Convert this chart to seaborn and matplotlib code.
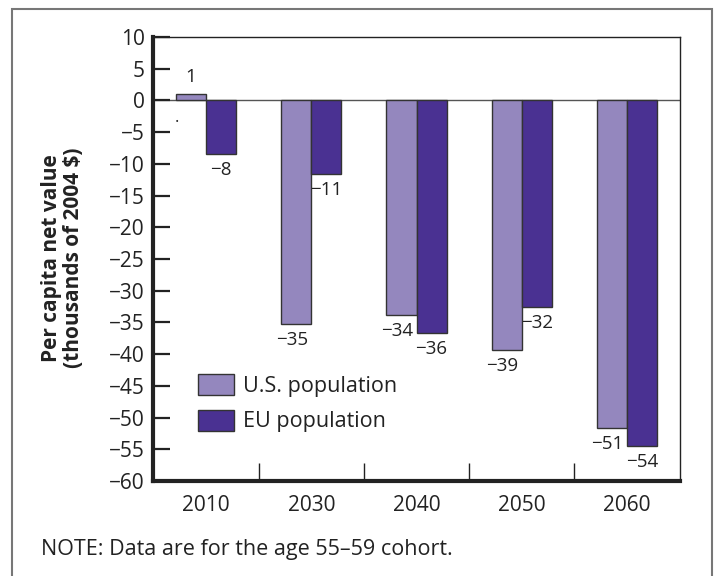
import matplotlib
matplotlib.use("Agg")
import matplotlib.pyplot as plt
import seaborn as sns
import pandas as pd
from matplotlib.patches import Rectangle, Patch
from matplotlib.ticker import FixedLocator

# ---- data ----
years = ["2010", "2030", "2040", "2050", "2060"]
us_values = [1.0, -35.2, -33.9, -39.3, -51.7]
eu_values = [-8.5, -11.6, -36.6, -32.6, -54.5]
us_labels = ["1", "\u221235", "\u221234", "\u221239", "\u221251"]
eu_labels = ["\u22128", "\u221211", "\u221236", "\u221232", "\u221254"]
series_names = ["U.S. population", "EU population"]
y_ticks = list(range(-60, 11, 5))
y_label = "Per capita net value\n(thousands of 2004 $)"
note = "NOTE: Data are for the age 55\u201359 cohort."

US_COLOR = "#9487BE"
EU_COLOR = "#4A3192"

df = pd.DataFrame({
    "year": years * 2,
    "value": us_values + eu_values,
    "series": [series_names[0]] * len(years) + [series_names[1]] * len(years),
})

sns.set_theme(style="white")
plt.rcParams["font.family"] = ["Open Sans", "DejaVu Sans"]

fig = plt.figure(figsize=(7.18, 5.76), dpi=100)
ax = fig.add_axes([153/718, 1-481/576, (680-153)/718, (481-37)/576])

sns.barplot(data=df, x="year", y="value", hue="series", order=years,
            hue_order=series_names, palette=[US_COLOR, EU_COLOR],
            width=0.572, gap=0, edgecolor="#333333", linewidth=1,
            saturation=1, errorbar=None, legend=False, ax=ax)

ax.set_xlim(-0.505, 4.505)
ax.set_ylim(-60, 10)
ax.axhline(0, color="#555555", lw=1, zorder=0.5)

# value labels
for container, labels, dx in zip(ax.containers, [us_labels, eu_labels], [-3, 0]):
    for bar, lab in zip(container, labels):
        h = bar.get_height()
        xc = bar.get_x() + bar.get_width() / 2
        if h >= 0:
            ax.annotate(lab, (xc, h), xytext=(0, 12), textcoords="offset points",
                        ha="center", va="center", fontsize=13.5, color="#222222")
        else:
            ax.annotate(lab, (xc, h), xytext=(dx, -11.5), textcoords="offset points",
                        ha="center", va="center", fontsize=13.5, color="#222222")
# stray dot in original
ax.annotate(".", (ax.containers[0][0].get_x(), 0), xytext=(1, -13),
            textcoords="offset points", ha="center", va="center", fontsize=12)

# spines
for s in ["top", "right"]:
    ax.spines[s].set_visible(True)
    ax.spines[s].set_linewidth(1)
    ax.spines[s].set_color("#222222")
for s in ["left", "bottom"]:
    ax.spines[s].set_linewidth(3)
    ax.spines[s].set_color("#222222")

ax.set_yticks(y_ticks)
ax.set_yticklabels([str(t).replace("-", "\u2212") for t in y_ticks])
ax.tick_params(axis="y", direction="in", length=12.5, width=1.6, color="#222222",
               labelsize=15, pad=6, left=True, labelcolor="#222222")
ax.tick_params(axis="x", which="major", length=0, labelsize=15, pad=10,
               labelcolor="#222222")
ax.xaxis.set_minor_locator(FixedLocator([0.5, 1.5, 2.5, 3.5]))
ax.tick_params(axis="x", which="minor", direction="in", length=13, width=1,
               color="#222222", bottom=True)
ax.set_xlabel("")
ax.set_ylabel("")

# legend
handles = [Patch(facecolor=US_COLOR, edgecolor="#333333", lw=1),
           Patch(facecolor=EU_COLOR, edgecolor="#333333", lw=1)]
ax.legend(handles, series_names, loc="upper left",
          bbox_to_anchor=((198-153)/527, (481-374)/444), borderaxespad=0,
          borderpad=0, frameon=False, fontsize=15.5, handlelength=1.65,
          handleheight=1.12, handletextpad=0.42, labelspacing=0.6,
          labelcolor="#222222")

fig.text(62.5/718, 1-258/576, y_label, rotation=90, ha="center", va="center",
         fontsize=15, fontweight="bold", multialignment="center",
         linespacing=1.12, color="#222222")
fig.text(41/718, 1-550/576, note, ha="left", va="center", fontsize=15.5,
         color="#222222")

fig.patches.append(Rectangle((12/718, -0.05), 700/718, 1-9/576+0.05,
                             transform=fig.transFigure, fill=False,
                             edgecolor="#777777", lw=1.5, zorder=-1))

fig.savefig("out.png", dpi=100)
